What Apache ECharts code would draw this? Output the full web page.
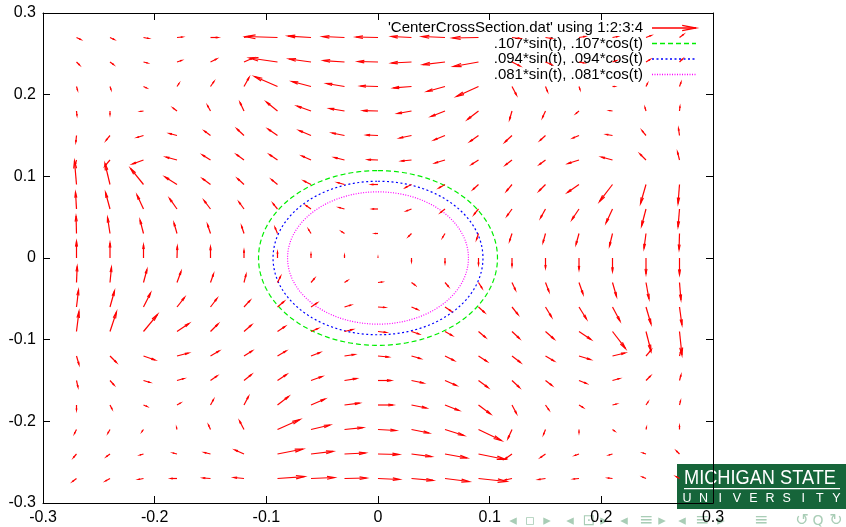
<!DOCTYPE html>
<html><head><meta charset="utf-8">
<script src="https://cdn.jsdelivr.net/npm/echarts@6/dist/echarts.min.js"></script>
<style>html,body{margin:0;padding:0;background:#fff}#c{width:846px;height:527px}</style>
</head><body><div id="c"></div>
<script>
// grid of sample points (data units)
const XS = [-0.27,-0.24,-0.21,-0.18,-0.15,-0.12,-0.09,-0.06,-0.03,0,0.03,0.06,0.09,0.12,0.15,0.18,0.21,0.24,0.27];
const YS = [0.27,0.24,0.21,0.18,0.15,0.12,0.09,0.06,0.03,0,-0.03,-0.06,-0.09,-0.12,-0.15,-0.18,-0.21,-0.24,-0.27];
// vector components (thousandths of data units), rows top (y=0.27) to bottom (y=-0.27)
const U = [
[3.6,3.6,4.5,4.9,6.7,5.4,-28.7,-20.6,-19.7,-19.7,-17.9,-20.6,-23.3,7.2,5.4,5.4,4.5,4.5,3.6],
[2.7,3.1,3.6,4.0,5.4,8.1,-25.1,-19.7,-18.8,-17.9,-17.9,-19.7,-22.4,7.2,5.4,4.5,3.6,3.6,2.7],
[0.9,0.9,2.7,1.8,3.1,4.5,-20.6,-17.0,-16.1,-15.7,-16.1,-16.1,-19.7,4.0,1.8,0.9,1.8,1.3,1.3],
[0.4,0,-2.7,-3.6,-2.7,-3.6,-9.9,-12.5,-13.4,-13.4,-12.5,-12.5,-9.9,-2.2,-2.7,-2.7,-2.7,-0.9,0.4],
[-0.6,-3.6,-5.8,-6.7,-5.4,-6.3,-8.5,-10.7,-11.2,-10.3,-10.7,-9.9,-7.6,-6.3,-4.9,-5.4,-5.4,-3.6,-0.9],
[-0.9,-4.5,-9.9,-9.9,-7.2,-6.7,-7.2,-8.1,-9.0,-9.0,-9.0,-9.0,-6.3,-5.8,-5.4,-9.9,-9.9,-5.4,-1.8],
[-1.8,-4.5,-11.6,-10.7,-7.2,-5.8,-5.4,-6.3,-6.3,-5.8,-5.4,-5.4,-4.9,-4.9,-5.8,-10.3,-11.6,-4.9,-1.3],
[-0.9,-4.0,-5.8,-6.7,-5.8,-4.5,-4.0,-4.5,-4.9,-4.9,-4.5,-4.0,-4.0,-4.5,-4.5,-6.3,-5.8,-4.0,-1.3],
[-0.4,-2.2,-3.1,-2.7,-2.7,-2.2,-2.2,-2.2,-2.7,-2.7,-2.7,-2.2,-1.8,-2.2,-2.2,-2.7,-2.7,-1.8,-0.4],
[0,0,0,0.3,0,0,0,0,0,0,0,0,0,0,0,0,0,0,0],
[0.6,1.3,3.1,3.6,2.7,1.8,2.7,3.1,2.7,3.6,3.1,3.1,3.1,3.1,3.1,3.6,3.6,2.7,1.3],
[1.8,4.0,6.3,6.7,5.8,5.4,5.8,5.4,5.8,6.3,5.4,5.4,5.4,5.4,5.4,6.7,6.7,4.5,2.2],
[2.2,5.8,12.5,10.7,6.7,6.7,6.7,6.3,7.2,7.2,6.7,6.3,6.3,6.7,7.6,10.7,11.6,4.5,2.2],
[2.2,5.8,10.3,10.3,7.6,7.2,7.6,8.1,9.0,9.4,8.1,8.1,7.6,7.6,7.6,10.3,11.2,4.5,0.9],
[1.3,3.6,5.8,6.3,5.8,6.7,8.1,9.9,10.7,11.6,10.7,10.3,8.5,6.7,5.8,6.7,6.3,4.0,1.3],
[0,1.8,3.1,3.1,2.7,4.0,9.9,12.5,13.4,13.4,13.4,12.5,10.7,4.0,3.1,3.6,3.6,1.8,0.9],
[-1.8,-1.8,-1.3,-0.4,-1.8,-4.0,20.1,17.0,16.6,16.1,15.7,17.0,20.6,-3.6,-1.8,0,1.8,0.4,0],
[-2.7,-3.1,-3.1,-3.6,-5.4,-8.1,22.8,19.7,18.8,18.8,17.9,19.7,24.2,-6.3,-4.5,-3.6,-3.1,-2.7,-2.7],
[-3.6,-4.0,-4.5,-5.4,-6.7,-9.0,24.2,21.0,19.7,19.3,19.3,21.5,25.1,-6.3,-6.3,-4.9,-4.0,-3.1,-3.1]
];
const V = [
[-2.4,-2.4,-1.2,0.6,0,1.2,1.2,1.8,1.2,0.6,1.2,1.2,-0.6,-1.2,-1.2,1.2,1.2,2.4,3.7],
[-3.7,-3.1,-1.2,1.8,3.7,4.9,4.9,3.7,1.8,0.6,-1.2,-3.1,-5.5,-4.9,-3.1,-1.2,1.8,3.1,3.7],
[-4.3,-3.7,-1.8,3.7,6.1,11.0,12.2,6.1,3.7,0.6,-1.8,-6.1,-12.2,-10.4,-6.1,-3.7,0,3.7,4.9],
[-5.5,-4.3,-0.6,3.7,6.7,10.4,11.0,6.1,3.1,0.4,-3.1,-6.7,-10.4,-10.4,-8.0,-3.1,0.6,4.3,5.5],
[-8.0,-6.1,-2.4,2.4,5.5,8.0,8.0,6.1,3.1,0.6,-3.1,-5.5,-7.3,-8.0,-6.1,-3.1,1.2,6.1,8.6],
[-4.9,-7.3,-4.9,3.7,6.1,6.7,6.7,4.9,3.1,0.4,-1.2,-3.7,-5.5,-6.1,-5.5,-4.3,3.7,7.3,9.8],
[28.8,25.7,19.6,9.2,7.3,7.3,6.1,4.3,2.4,0,-3.7,-4.3,-6.1,-8.0,-8.0,-9.8,-20.8,-23.3,-23.3],
[20.2,20.2,17.1,12.9,10.4,8.6,6.7,4.3,1.8,0,-2.4,-4.3,-6.7,-8.6,-11.0,-12.9,-17.1,-20.8,-22.0],
[21.4,19.6,16.5,12.9,11.0,9.2,7.3,4.9,2.4,0,-3.7,-4.9,-7.3,-9.2,-11.0,-13.5,-15.3,-18.4,-19.6],
[20.2,18.4,15.9,14.1,13.5,9.2,7.3,4.9,3.1,0.6,-4.3,-6.1,-8.0,-9.8,-12.2,-14.1,-16.5,-19.6,-20.2],
[19.6,18.4,15.9,13.5,10.4,9.8,7.3,4.9,2.4,0.6,-3.1,-4.9,-6.7,-9.2,-11.0,-14.1,-17.1,-20.2,-21.4],
[20.8,19.6,17.1,11.6,10.4,8.0,6.7,4.9,2.4,-0.6,-3.1,-4.9,-6.7,-9.2,-12.2,-14.7,-17.1,-20.8,-22.0],
[24.5,23.9,20.8,9.8,9.2,8.0,6.1,3.7,2.4,-1.2,-3.1,-4.9,-7.3,-8.6,-9.2,-9.8,-20.8,-23.9,-28.8],
[-10.4,-8.0,-4.9,3.7,6.1,6.1,6.1,4.3,1.8,-1.2,-3.1,-5.5,-6.7,-8.0,-6.1,-4.3,3.7,7.3,4.9],
[-8.0,-5.5,-2.4,2.4,5.5,7.3,7.3,4.9,2.4,0,-3.1,-6.1,-8.6,-8.6,-6.1,-3.7,2.4,5.5,6.7],
[-6.1,-4.9,-1.8,2.4,6.7,10.4,10.4,7.3,2.4,0,-3.7,-6.7,-11.0,-10.4,-6.1,-3.1,1.2,3.7,4.9],
[-4.9,-4.3,-2.4,2.4,5.5,10.4,12.2,5.5,2.4,-1.2,-4.3,-7.3,-13.5,-11.0,-6.1,-3.7,-1.8,2.4,4.3],
[-4.3,-3.1,-1.2,1.2,1.8,4.9,6.1,3.1,1.2,-0.6,-3.1,-4.9,-6.7,-6.1,-4.3,-1.8,-1.2,1.2,3.7],
[-3.7,-3.1,-1.2,0,0.6,1.2,2.4,1.2,0.6,-1.2,-2.4,-3.7,-3.7,-1.8,-1.2,-0.6,0.6,1.8,2.4]
];
const RADII = [0.107, 0.094, 0.081];
const CURVE_NAMES = [".107*sin(t), .107*cos(t)", ".094*sin(t), .094*cos(t)", ".081*sin(t), .081*cos(t)"];
const VECTOR_NAME = "'CenterCrossSection.dat' using 1:2:3:4";
const AXIS_MIN = -0.3, AXIS_MAX = 0.3, AXIS_STEP = 0.1;

const FONT = 'Liberation Sans, Arial, Helvetica, sans-serif';
const CURVE_COLORS = ['#00ee00', '#0000ff', '#ff00ff'];
const CURVE_DASH = [[5, 3], [2, 2.5], [1, 1.5]];

const vecData = [];
for (let j = 0; j < YS.length; j++)
  for (let i = 0; i < XS.length; i++)
    vecData.push([XS[i], YS[j], U[j][i], V[j][i]]);

function arrowShapes(p0, p1, color, lw) {
  const dx = p1[0] - p0[0], dy = p1[1] - p0[1];
  const len = Math.hypot(dx, dy);
  if (len < 0.3) return [];
  const hl = len * 0.32, a = Math.atan2(dy, dx), ha = 11 * Math.PI / 180;
  const h1 = [p1[0] - hl * Math.cos(a - ha), p1[1] - hl * Math.sin(a - ha)];
  const h2 = [p1[0] - hl * Math.cos(a + ha), p1[1] - hl * Math.sin(a + ha)];
  return [
    {type: 'line', shape: {x1: p0[0], y1: p0[1], x2: p1[0], y2: p1[1]}, style: {stroke: color, lineWidth: lw}},
    {type: 'polyline', shape: {points: [h1, p1, h2]}, style: {stroke: color, fill: null, lineWidth: lw}}
  ];
}

const fmt = v => String(Math.round(v * 10) / 10);
const axisCommon = {
  type: 'value', min: AXIS_MIN, max: AXIS_MAX, interval: AXIS_STEP,
  axisLine: {show: true, onZero: false, lineStyle: {color: '#000', width: 1}},
  axisTick: {show: true, inside: true, length: 7, lineStyle: {color: '#000', width: 1}},
  splitLine: {show: false}
};

const series = [];
RADII.forEach((r, k) => {
  series.push({
    type: 'custom', coordinateSystem: 'cartesian2d', name: CURVE_NAMES[k],
    data: [[0, 0, r]], encode: {x: 0, y: 1}, silent: true, z: 3,
    renderItem: (params, api) => {
      const rr = api.value(2), pts = [];
      for (let s = 0; s <= 240; s++) {
        const t = s / 240 * 2 * Math.PI;
        pts.push(api.coord([rr * Math.sin(t), rr * Math.cos(t)]));
      }
      return {type: 'polyline', shape: {points: pts},
        style: {stroke: CURVE_COLORS[k], fill: null, lineWidth: 1.2, lineDash: CURVE_DASH[k]}};
    }
  });
});
series.push({
  type: 'custom', coordinateSystem: 'cartesian2d', name: VECTOR_NAME,
  data: vecData, encode: {x: 0, y: 1}, silent: true, z: 4,
  renderItem: (params, api) => {
    const x = api.value(0), y = api.value(1), u = api.value(2) / 1000, v = api.value(3) / 1000;
    const p0 = api.coord([x, y]), p1 = api.coord([x + u, y + v]);
    return {type: 'group', children: arrowShapes(p0, p1, '#ff0000', 1.2)};
  }
});

// legend (drawn as graphics, gnuplot style: text right-aligned, sample on the right)
const LX_TEXT = 643, LX0 = 652, LX1 = 696, LY = [28, 43.5, 59, 74.5];
const graphics = [];
graphics.push({type: 'text', x: LX_TEXT, y: LY[0], style: {text: VECTOR_NAME, font: '15px ' + FONT, fill: '#000', textAlign: 'right', textVerticalAlign: 'middle'}});
arrowShapes([LX0, LY[0]], [LX1, LY[0]], '#ff0000', 1.3).forEach(s => graphics.push(s));
CURVE_NAMES.forEach((n, k) => {
  graphics.push({type: 'text', x: LX_TEXT, y: LY[k + 1], style: {text: n, font: '15px ' + FONT, fill: '#000', textAlign: 'right', textVerticalAlign: 'middle'}});
  graphics.push({type: 'line', shape: {x1: LX0, y1: LY[k + 1], x2: LX1, y2: LY[k + 1]}, style: {stroke: CURVE_COLORS[k], lineWidth: 1.4, lineDash: CURVE_DASH[k]}});
});

// Michigan State University logo box
graphics.push({type: 'rect', z: -1, shape: {x: 677, y: 464, width: 169, height: 45}, style: {fill: '#16653a'}});
graphics.push({type: 'text', z: -1, x: 684, y: 478, scaleX: 0.91, style: {text: 'MICHIGAN STATE', font: '20px ' + FONT, fill: '#ffffff', textVerticalAlign: 'middle'}});
graphics.push({type: 'rect', z: -1, shape: {x: 684, y: 488, width: 156, height: 1.2}, style: {fill: '#ffffff'}});
'UNIVERSITY'.split('').forEach((ch, k) => {
  graphics.push({type: 'text', z: -1, x: 687 + k * 16.6, y: 499, style: {text: ch, font: '12.5px ' + FONT, fill: '#ffffff', textAlign: 'center', textVerticalAlign: 'middle'}});
});
// beamer navigation symbols
const NAV = [[513,'◂',15],[530,'▫',15],[547,'▸',15],[570,'◂',15],[589,'⊡',15],[604,'▸',15],[624,'◂',15],[646,'≡',17],[662,'▸',15],[682,'◂',15],[702,'≡',17],[721,'▸',15],[761,'≡',17],[802,'↺',16],[818,'Q',14],[836,'↻',16]];
NAV.forEach(([x, s, f]) => graphics.push({type: 'text', z: -1, x: x, y: 521, style: {text: s, font: f + 'px DejaVu Sans', fill: '#a9cdb6', textAlign: 'center', textVerticalAlign: 'middle'}}));

const chart = echarts.init(document.getElementById('c'), null, {renderer: 'canvas'});
chart.setOption({
  animation: false,
  backgroundColor: '#ffffff',
  grid: {left: 43, top: 13, width: 670, height: 490, containLabel: false},
  xAxis: [
    Object.assign({}, axisCommon, {position: 'bottom', axisLabel: {show: true, formatter: fmt, color: '#000', fontSize: 16, fontFamily: FONT, margin: 7}}),
    Object.assign({}, axisCommon, {position: 'top', axisLabel: {show: false}})
  ],
  yAxis: [
    Object.assign({}, axisCommon, {position: 'left', axisLabel: {show: true, formatter: fmt, color: '#000', fontSize: 16, fontFamily: FONT, margin: 7}}),
    Object.assign({}, axisCommon, {position: 'right', axisLabel: {show: false}})
  ],
  graphic: {elements: graphics},
  series: series
});
</script></body></html>
